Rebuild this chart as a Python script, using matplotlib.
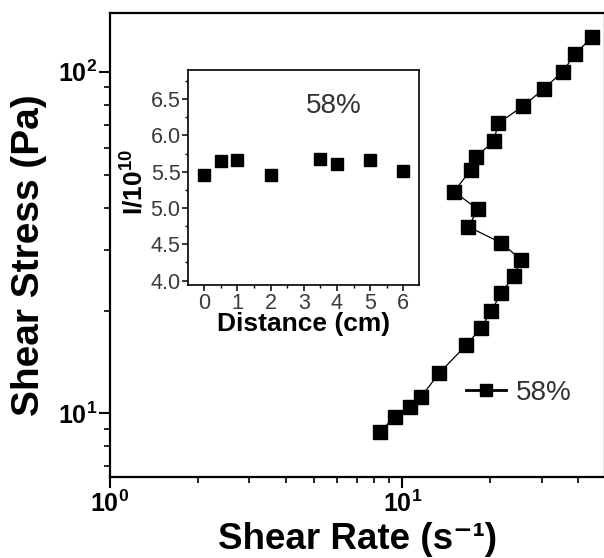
import matplotlib
matplotlib.use("Agg")
import matplotlib.pyplot as plt
from matplotlib.lines import Line2D
from matplotlib.ticker import LogLocator, MultipleLocator, FormatStrFormatter, NullFormatter, FuncFormatter
import math

plt.rcParams['font.family'] = ['Liberation Sans', 'DejaVu Sans']
plt.rcParams['mathtext.default'] = 'regular'

# Main data: shear rate (1/s) vs shear stress (Pa)
shear_rate = [8.38, 9.43, 10.59, 11.62, 13.35, 16.57, 18.55, 20.19, 21.73, 24.13,
              25.50, 21.73, 16.84, 18.16, 15.03, 17.15, 17.93, 20.61, 21.27, 25.91,
              30.44, 35.36, 38.96, 44.46]
shear_stress = [8.83, 9.77, 10.45, 11.19, 13.09, 15.85, 17.74, 19.93, 22.45, 25.23,
                28.20, 31.58, 35.18, 39.56, 44.55, 51.56, 56.39, 62.81, 70.62, 79.32,
                89.0, 100.0, 112.4, 126.1]
series_label = "58%"

# Inset data: distance (cm) vs I/10^10
distance = [0, 0.5, 1, 2, 3.5, 4, 5, 6]
intensity = [5.46, 5.65, 5.655, 5.46, 5.67, 5.61, 5.66, 5.51]
inset_text = "58%"

W, H = 604, 558
fig = plt.figure(figsize=(W / 100, H / 100), dpi=100)

def frac_rect(l, t, r, b):
    return [l / W, 1 - b / H, (r - l) / W, (b - t) / H]

def pow10(v, pos):
    return "$10^{%d}$" % int(round(math.log10(v)))

ax = fig.add_axes(frac_rect(110, 13.3, 605, 477))
ax.plot(shear_rate, shear_stress, color='black', lw=0.9, marker='s',
        markersize=9.6, markerfacecolor='black', markeredgecolor='black')
ax.set_xscale('log')
ax.set_yscale('log')
ax.set_xlim(1, 49.4)
ax.set_ylim(6.51, 148.3)
for s in ax.spines.values():
    s.set_linewidth(1.6)
ax.xaxis.set_major_locator(LogLocator(base=10, numticks=10))
ax.yaxis.set_major_locator(LogLocator(base=10, numticks=10))
ax.xaxis.set_minor_locator(LogLocator(base=10, subs=range(2, 10), numticks=20))
ax.yaxis.set_minor_locator(LogLocator(base=10, subs=range(2, 10), numticks=20))
ax.xaxis.set_major_formatter(FuncFormatter(pow10))
ax.yaxis.set_major_formatter(FuncFormatter(pow10))
ax.xaxis.set_minor_formatter(NullFormatter())
ax.yaxis.set_minor_formatter(NullFormatter())
ax.tick_params(which='major', direction='out', length=8, width=1.5, labelsize=18, pad=1)
ax.tick_params(which='minor', direction='out', length=4.5, width=1.2)
ax.tick_params(axis='x', which='major', pad=2)
ax.tick_params(top=False, right=False)
for lab in ax.get_xticklabels() + ax.get_yticklabels():
    lab.set_fontweight('bold')

ax.set_xlabel("Shear Rate (s\u207b\u00b9)", fontsize=26.5, fontweight='bold')
ax.xaxis.label.set_verticalalignment('bottom')
ax.set_ylabel("Shear Stress (Pa)", fontsize=28, fontweight='bold')
ax.xaxis.set_label_coords(0.5, -(557 - 477) / 463.7)
ax.yaxis.set_label_coords(-0.128, 0.479)

handle = Line2D([], [], color='black', lw=2.0, marker='s', markersize=8.8,
                markerfacecolor='black', markeredgecolor='black')
leg = fig.legend([handle], [series_label], loc='center left',
                 bbox_to_anchor=(466 / W, 1 - 393 / H), frameon=False,
                 fontsize=20, handlelength=1.45, handletextpad=0.35,
                 borderpad=0, borderaxespad=0)
for t in leg.get_texts():
    t.set_color('#333333')

# Inset
ins = fig.add_axes(frac_rect(188.3, 70, 419.3, 285))
ins.plot(distance, intensity, linestyle='none', marker='s', markersize=8.8,
         color='black')
ins.set_xlim(-0.48, 6.48)
ins.set_ylim(3.94, 6.9)
for s in ins.spines.values():
    s.set_linewidth(1.2)
ins.xaxis.set_major_locator(MultipleLocator(1))
ins.xaxis.set_minor_locator(MultipleLocator(0.5))
ins.yaxis.set_major_locator(MultipleLocator(0.5))
ins.yaxis.set_minor_locator(MultipleLocator(0.25))
ins.yaxis.set_major_formatter(FormatStrFormatter('%.1f'))
ins.xaxis.set_major_formatter(FormatStrFormatter('%d'))
ins.tick_params(which='major', direction='out', length=4, width=1.1,
                labelsize=15.5, labelcolor='#3a3a3a', pad=1.5)
ins.tick_params(which='minor', direction='out', length=2.5, width=1.0)
ins.tick_params(top=False, right=False)
ins.set_xlabel("Distance (cm)", fontsize=19, fontweight='bold', labelpad=0)
ins.set_ylabel("I/10$^{10}$", fontsize=19, fontweight='bold')
ins.yaxis.set_label_coords(-0.172, 0.479)
ins.xaxis.set_label_coords(0.5, -0.125)
ins.text(334 / W, 1 - 106 / H, inset_text, transform=fig.transFigure,
         fontsize=20, color='#333333', ha='center', va='center')

fig.savefig("out.png", dpi=100)
